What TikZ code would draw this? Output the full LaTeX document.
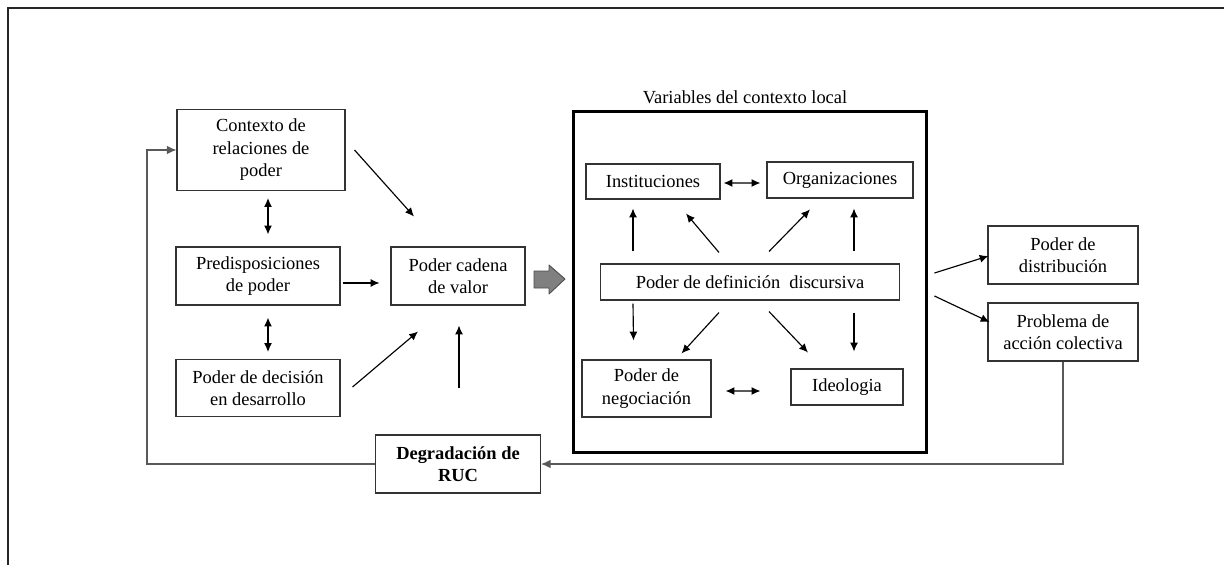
\documentclass[tikz,border=0pt]{standalone}
\usepackage{fontspec}
\setmainfont{Liberation Serif}
\usetikzlibrary{arrows.meta,calc}

\tikzset{
  caja/.style={draw=black!80,line width=0.6pt,align=center,inner sep=1pt},
  flecha/.style={-{Latex[length=5pt,width=4.5pt]},line width=0.65pt},
  doble/.style={{Latex[length=5pt,width=4.5pt]}-{Latex[length=5pt,width=4.5pt]},line width=0.75pt},
  retorno/.style={draw=black!65,line width=0.8pt}
}

\begin{document}
\begin{tikzpicture}[x=0.02cm,y=-0.02cm,font=\fontsize{10.5}{12.8}\selectfont]
\useasboundingbox (0,0) rectangle (1224,565);
\draw[black!85,line width=0.9pt] (8,565) -- (8,8) -- (1224,8);

% bloque izquierdo
\node[caja,minimum width=3.36cm,minimum height=1.62cm] (ctx) at (261,150) {Contexto de\\relaciones de\\poder};
\node[caja,minimum width=3.28cm,minimum height=1.16cm] (pre) at (258,276) {Predisposiciones\\de poder};
\node[caja,minimum width=3.28cm,minimum height=1.14cm] (dec) at (258,388) {Poder de decisión\\en desarrollo};
\node[caja,minimum width=2.68cm,minimum height=1.16cm] (cad) at (458,276) {Poder cadena\\de valor};
\node[caja,minimum width=3.30cm,minimum height=1.16cm,font=\fontsize{10.5}{12.8}\selectfont\bfseries] (deg) at (458,464) {Degradación de\\RUC};

% contexto local
\node[draw,line width=1.7pt,minimum width=7.08cm,minimum height=6.84cm] (big) at (750,282) {};
\node (var) at (745,97) {Variables del contexto local};
\node[caja,minimum width=2.68cm,minimum height=0.70cm] (ins) at (653,181.5) {Instituciones};
\node[caja,minimum width=2.92cm,minimum height=0.72cm] (org) at (840,180) {Organizaciones};
\node[caja,minimum width=5.98cm,minimum height=0.72cm] (def) at (750,282) {Poder de definición\ \ discursiva};
\node[caja,minimum width=2.58cm,minimum height=1.14cm] (neg) at (646.5,388.5) {Poder de\\negociación};
\node[caja,minimum width=2.24cm,minimum height=0.72cm] (ide) at (847,387) {Ideologia};

% salidas
\node[caja,minimum width=3.00cm,minimum height=1.16cm] (dis) at (1063,255) {Poder de\\distribución};
\node[caja,minimum width=3.00cm,minimum height=1.16cm] (pro) at (1063,332) {Problema de\\acción colectiva};

\draw[doble] ($(ctx.south)+(7,7)$) -- ($(pre.north)+(10,-12)$);
\draw[doble] ($(pre.south)+(10,12)$) -- ($(dec.north)+(10,-7)$);
\draw[flecha] ($(ctx.east)+(9,0)$) -- ($(cad.north)+(-44,-30)$);
\draw[flecha] ($(pre.east)+(2,7)$) -- ($(cad.west)+(-11,7)$);
\draw[flecha] ($(dec.east)+(12,-1)$) -- ($(cad.south)+(-40,26)$);
\draw[flecha] ($(deg.north)+(1,-46)$) -- ($(cad.south)+(1,20)$);

% flecha gruesa
\draw[draw=black!70,fill=black!50,line width=0.5pt,line join=round]
  (534,271) -- (549,271) -- (549,265) -- (565,279) -- (549,294) -- (549,288) -- (534,288) -- cycle;

\draw[doble] ($(ins.east)+(3,1.5)$) -- ($(org.west)+(-6,3)$);
\draw[flecha] ($(def.north)+(-117,-12)$) -- ($(ins.south)+(-20,9)$);
\draw[flecha] ($(def.north)+(-31,-11)$) -- ($(ins.south)+(33,14)$);
\draw[flecha] ($(def.north)+(19,-12)$) -- ($(org.south)+(-30,11)$);
\draw[flecha] ($(def.north)+(104,-12)$) -- ($(org.south)+(14,10)$);
\draw[flecha] ($(def.south)+(-117,3)$) -- ($(neg.north)+(-13,-19)$);
\draw[flecha] ($(def.south)+(-31,12)$) -- ($(neg.north)+(35,-6)$);
\draw[flecha] ($(def.south)+(19,11)$) -- ($(ide.north)+(-39,-16)$);
\draw[flecha] ($(def.south)+(104,12)$) -- ($(ide.north)+(7,-17)$);
\draw[doble] ($(neg.east)+(14,2.5)$) -- ($(ide.west)+(-30,4)$);

\draw[flecha] ($(big.east)+(6,-9)$) -- ($(dis.west)+(1,1)$);
\draw[flecha] ($(big.east)+(6,14)$) -- ($(pro.west)+(2,-10)$);

% lazo de retorno
\coordinate (esq) at (147,150);
\draw[retorno,-{Latex[length=5.5pt,width=5pt]}] (pro.south) |- (deg.east);
\draw[retorno,-{Latex[length=5.5pt,width=5pt]}] (deg.west) -| (esq) -- (ctx.west);
\end{tikzpicture}
\end{document}
